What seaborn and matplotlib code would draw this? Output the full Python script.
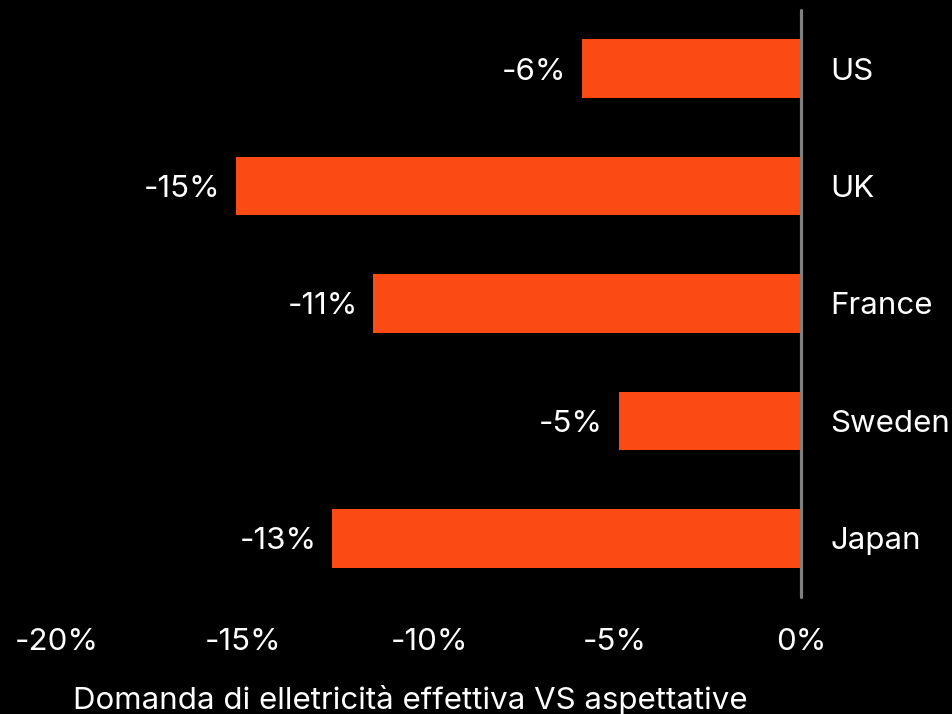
import matplotlib
matplotlib.use("Agg")
import matplotlib.pyplot as plt
import seaborn as sns
import pandas as pd

countries = ["US", "UK", "France", "Sweden", "Japan"]
values = [-5.9, -15.2, -11.5, -4.9, -12.6]
value_labels = ["-6%", "-15%", "-11%", "-5%", "-13%"]
xticks = [-20, -15, -10, -5, 0]
xtick_labels = ["-20%", "-15%", "-10%", "-5%", "0%"]
xlabel = "Domanda di elletricità effettiva VS aspettative"

sns.set_theme(style="white")
plt.rcParams["font.family"] = ["Inter", "DejaVu Sans"]
FS = 22.5
FW = "normal"

df = pd.DataFrame({"country": countries, "value": values})

fig = plt.figure(figsize=(9.53, 7.14), dpi=100, facecolor="black")
ax = fig.add_axes([20 / 953, 1 - 597 / 714, 781 / 953, 587 / 714])
ax.set_facecolor("black")

sns.barplot(data=df, x="value", y="country", orient="h", color="#FC4A14",
            width=0.5, saturation=1, linewidth=0, edgecolor="none", ax=ax)

ax.set_xlim(-21, 0)
ax.set_ylim(4.5, -0.5)
ax.axvline(0, color="#808080", lw=2.3, zorder=10, clip_on=False)

for i, (v, lab) in enumerate(zip(values, value_labels)):
    ax.text(v - 0.42, i, lab, ha="right", va="center_baseline", color="white",
            fontsize=FS, fontweight=FW)

ax.yaxis.tick_right()
ax.set_yticks(range(len(countries)))
ax.set_yticklabels(countries, color="white", fontsize=FS, fontweight=FW)
ax.tick_params(axis="y", length=0, pad=21)
ax.set_ylabel("")

ax.set_xticks(xticks)
ax.set_xticklabels(xtick_labels, color="white", fontsize=FS, fontweight=FW)
ax.tick_params(axis="x", length=0, pad=22)
ax.set_xlabel(xlabel, color="white", fontsize=FS, fontweight=FW)
ax.xaxis.set_label_coords(0.5, -0.15)

for s in ax.spines.values():
    s.set_visible(False)

fig.savefig("out.png", dpi=100, facecolor="black")
